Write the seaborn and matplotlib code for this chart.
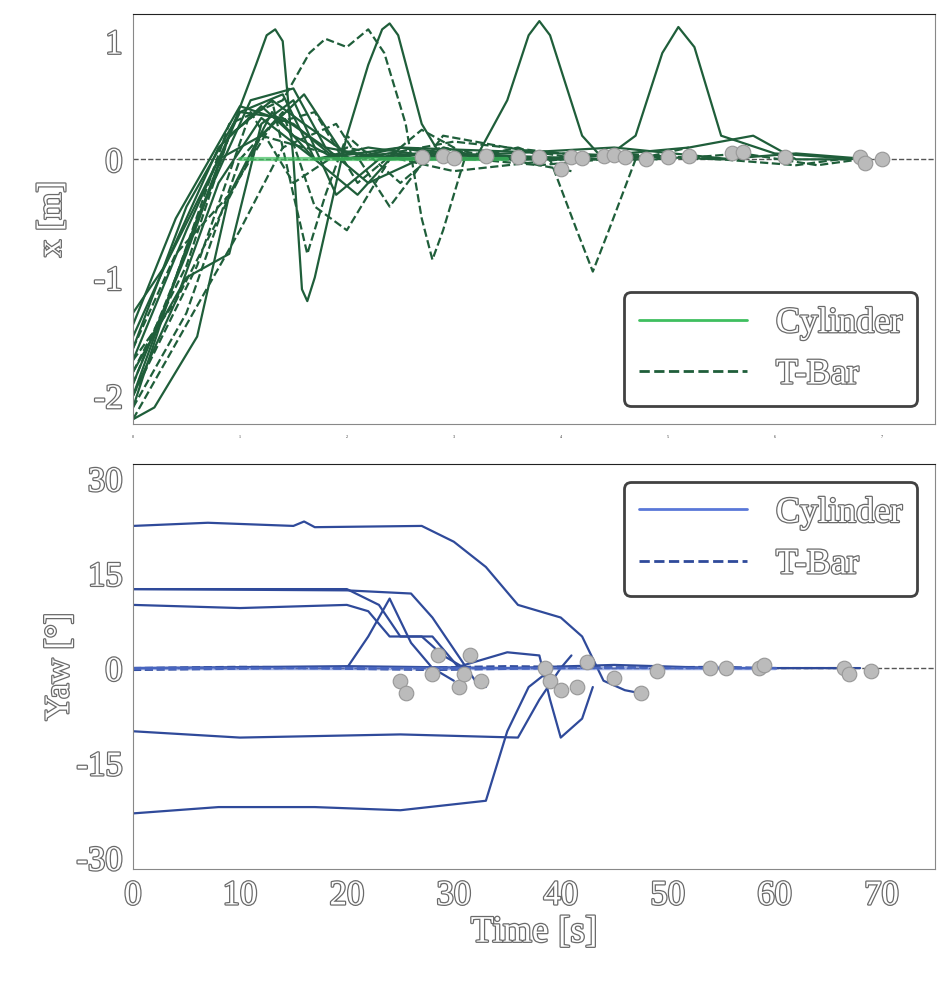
import matplotlib
matplotlib.use("Agg")
import matplotlib.pyplot as plt
import matplotlib.patheffects as pe
import seaborn as sns
import pandas as pd

sns.set_style("white")
plt.rcParams['font.family'] = ['Liberation Serif', 'DejaVu Serif']

# ---- x position trajectories (time, value) ----
x_cyl = [
    [(0,-1.9),(5,-0.8),(9,0.2),(11.5,0.8),(12.5,1.05),(13.3,1.1),(14,1.0),(15,0.0),(15.8,-1.1),(16.3,-1.2),(17,-1.0),(20,0.2),(22,0.8),(23.3,1.1),(24,1.15),(24.8,1.05),(27,0.3),(29,0.0),(32,0.0),(35,0.5),(37,1.05),(38,1.17),(39,1.05),(42,0.2),(44,0.0),(47,0.2),(49.5,0.9),(51,1.12),(52.5,0.95),(55,0.2),(60,0.05),(68,0.0)],
    [(0,-2.1),(4,-1.0),(9,0.2),(13,0.5),(16,0.3),(20,0.05),(26,0.0),(30,0.0)],
    [(0,-1.7),(5,-0.6),(10,0.4),(14,0.55),(17,0.0),(21,-0.3),(25,0.1),(31,0.0)],
    [(0,-1.5),(4,-0.7),(8,0.1),(12,0.45),(15,0.2),(19,0.0),(24,0.05),(33,0.0)],
    [(0,-2.0),(6,-0.5),(11,0.5),(15,0.6),(18,0.1),(22,-0.2),(28,0.05),(36,0.0)],
    [(0,-1.3),(3,-0.9),(8,0.0),(12,0.2),(16,0.55),(20,0.0),(25,0.1),(30,0.05),(40,0.0)],
    [(0,-1.8),(5,-1.0),(9,-0.8),(12,0.3),(15,0.5),(19,-0.3),(23,0.0),(28,0.05),(45,0.0)],
    [(0,-2.2),(2,-2.1),(6,-1.5),(9,-0.3),(13,0.4),(17,0.0),(22,0.1),(30,0.0),(49,0.0)],
    [(0,-1.6),(5,-0.4),(10,0.4),(14,0.35),(18,0.1),(24,0.0),(35,0.05),(45,0.1),(56,0.0)],
    [(0,-1.4),(4,-0.5),(10,0.45),(15,0.3),(19,0.0),(28,0.05),(40,0.0),(52,0.1),(58,0.2),(62,0.0),(67,0.0)],
    [(0,-2.0),(4,-1.2),(8,-0.2),(12,0.35),(17,0.0),(25,0.1),(40,0.05),(55,0.0),(62,0.05),(69,0.0)],
]
x_tbar = [
    [(0,-1.9),(4,-1.0),(9,0.3),(14,0.5),(16.5,0.9),(18,1.02),(20,0.95),(22,1.1),(23.5,0.9),(25.5,0.3),(27,-0.5),(28,-0.85),(29,-0.6),(31,0.0),(36,0.1),(39,0.0),(41.5,-0.6),(43,-0.95),(44.5,-0.6),(47,0.0),(52,0.1)],
    [(0,-2.1),(5,-1.3),(10,0.0),(14,0.4),(17,-0.4),(20,-0.6),(24,0.0),(29,0.1),(33,0.0),(40,0.0)],
    [(0,-1.8),(5,-0.9),(9,0.2),(13,0.5),(15,-0.3),(16.3,-0.8),(18,-0.3),(20,0.2),(25,-0.2),(29,0.1),(35,0.0),(41,-0.1)],
    [(0,-1.6),(4,-0.8),(9,-0.3),(13,0.3),(17,0.4),(21,-0.2),(27,0.25),(32,0.0),(38,-0.05),(44,0.0)],
    [(0,-2.2),(5,-1.4),(10,-0.6),(14,0.1),(19,0.3),(24,-0.4),(29,0.2),(35,0.1),(42,0.0),(48,0.0)],
    [(0,-1.7),(4,-1.2),(8,-0.5),(12,0.2),(16,0.1),(21,0.0),(30,0.15),(40,0.05),(50,0.0),(57,0.05),(64,-0.05),(68,0.0)],
    [(0,-2.0),(6,-0.9),(11,0.4),(15,-0.2),(20,0.1),(30,-0.1),(45,0.05),(55,0.0),(62,-0.05),(66,0.0)],
]
# ---- yaw trajectories ----
yaw_cyl = [
    [(0,22.5),(7,23),(15,22.5),(16,23.2),(17,22.3),(27,22.5),(30,20),(33,16),(36,10),(40,8),(42,5),(44,-2),(46,-3.5),(47.5,-4)],
    [(0,12.5),(10,12.5),(20,12.5),(23,10),(25,5),(28,5),(30,1),(31,-1)],
    [(0,12.5),(20,12.3),(26,11.8),(28,8),(30,3),(32,-2),(33,-3)],
    [(0,10),(10,9.5),(20,10),(22,9),(24,5),(27,5),(29,2),(31,0)],
    [(0,-10),(10,-11),(25,-10.5),(36,-11),(38,-5),(40,0),(41,2)],
    [(0,-23),(8,-22),(17,-22),(25,-22.5),(33,-21),(35,-10),(37,-3),(38.5,-1)],
    [(0,0),(20,0.3),(35,0),(45,0.5),(55,0),(60,0),(68,0)],
    [(20,0),(22,5),(24,11),(26,4),(28,0),(30,-2)],
    [(30,0),(35,2.5),(38,2),(39,-5),(40,-11),(42,-8),(43,-3)],
]
yaw_tbar = [
    [(0,0),(10,0.2),(25,0),(35,0.3),(50,0),(65,0),(67,0)],
    [(0,-0.3),(15,0),(28,-0.3),(40,0),(55,0.2),(59,0)],
]
x_dots_t = [27,29,30,33,36,38,40,41,42,44,45,46,48,50,52,56,57,61,68,68.5,70]
x_dots_v = [0.02,0.03,0.01,0.03,0.02,0.02,-0.08,0.02,0.01,0.03,0.04,0.02,0.0,0.02,0.03,0.05,0.06,0.02,0.02,-0.03,0.0]
y_dots_t = [25,25.5,28,28.5,30.5,31,31.5,32.5,38.5,39,40,41.5,42.5,45,47.5,49,54,55.5,58.5,59,66.5,67,69]
y_dots_v = [-2,-4,-1,2,-3,-1,2,-2,0,-2,-3.5,-3,1,-1.5,-4,-0.5,0,0,0,0.5,0,-1,-0.5]

dark_g, light_g = "#1f5e3a", "#3fbf5f"
dark_b, light_b = "#2f4a9a", "#5a78d8"
outline = [pe.withStroke(linewidth=1.8, foreground="#6a6a6a")]

def df_of(trajs):
    rows = []
    for i, tr in enumerate(trajs):
        for t, v in tr:
            rows.append((i, t, v))
    return pd.DataFrame(rows, columns=["id", "t", "v"])

fig = plt.figure(figsize=(9.45, 9.95), dpi=100)
ax1 = fig.add_axes([133/945, 1-425/995, 802/945, 410/995])
ax2 = fig.add_axes([133/945, 1-870/995, 802/945, 405/995])

for ax in (ax1, ax2):
    ax.axhline(0, color="#555555", lw=1, ls="--", zorder=1)

d = df_of(x_cyl)
for i, g in d.groupby("id"):
    sns.lineplot(x=g.t.values, y=g.v.values, ax=ax1, color=dark_g, lw=1.6, sort=False)
d = df_of(x_tbar)
for i, g in d.groupby("id"):
    sns.lineplot(x=g.t.values, y=g.v.values, ax=ax1, color=dark_g, lw=1.6, ls="--", sort=False)
ax1.plot([10, 35], [0, 0], color=light_g, lw=3, alpha=0.7)
sns.scatterplot(x=x_dots_t, y=x_dots_v, ax=ax1, color="#bbbbbb", edgecolor="#999999", s=110, zorder=5)

d = df_of(yaw_cyl)
for i, g in d.groupby("id"):
    sns.lineplot(x=g.t.values, y=g.v.values, ax=ax2, color=dark_b, lw=1.6, sort=False)
d = df_of(yaw_tbar)
for i, g in d.groupby("id"):
    sns.lineplot(x=g.t.values, y=g.v.values, ax=ax2, color=dark_b, lw=1.6, ls="--", sort=False)
ax2.plot([0, 60], [0, 0], color=light_b, lw=2.5, alpha=0.6)
sns.scatterplot(x=y_dots_t, y=y_dots_v, ax=ax2, color="#bbbbbb", edgecolor="#999999", s=110, zorder=5)

ax1.set_xlim(0, 75); ax2.set_xlim(0, 75)
ax1.set_ylim(-2.24, 1.23); ax2.set_ylim(-31.8, 32.3)
ax1.set_yticks([-2, -1, 0, 1]); ax1.set_yticklabels(["-2", "-1", "0", "1"])
ax1.set_xticks(range(0, 80, 10)); ax1.set_xticklabels([str(i) for i in range(8)], fontsize=3)
ax2.set_yticks([-30, -15, 0, 15, 30]); ax2.set_yticklabels(["-30", "-15", "0", "15", "30"])
ax2.set_xticks(range(0, 80, 10))

for ax in (ax1, ax2):
    ax.tick_params(axis="both", direction="out", length=4, color="#888888")
    for s in ax.spines.values():
        s.set_color("#888888")
    ax.spines["top"].set_color("#222222")
    for lab in ax.get_yticklabels():
        lab.set_fontsize(25); lab.set_color("white"); lab.set_path_effects(outline)
for lab in ax2.get_xticklabels():
    lab.set_fontsize(25); lab.set_color("white"); lab.set_path_effects(outline)

ax1.set_ylabel("x [m]", fontsize=25, color="white", path_effects=outline, labelpad=18)
ax2.set_ylabel("Yaw [°]", fontsize=25, color="white", path_effects=outline, labelpad=0)
ax2.set_xlabel("Time [s]", fontsize=27, color="white", path_effects=outline, labelpad=2)

from matplotlib.lines import Line2D
def legend(ax, col, dark, loc):
    h = [Line2D([], [], color=col, lw=2), Line2D([], [], color=dark, lw=2, ls="--")]
    lg = ax.legend(h, ["Cylinder", "T-Bar"], loc=loc, fontsize=26, frameon=True,
                   fancybox=True, edgecolor="#111111", handlelength=3, borderpad=0.4)
    lg.get_frame().set_linewidth(2)
    for t in lg.get_texts():
        t.set_color("white"); t.set_path_effects(outline)
legend(ax1, light_g, dark_g, "lower right")
legend(ax2, light_b, dark_b, "upper right")

fig.savefig("out.png", dpi=100)
